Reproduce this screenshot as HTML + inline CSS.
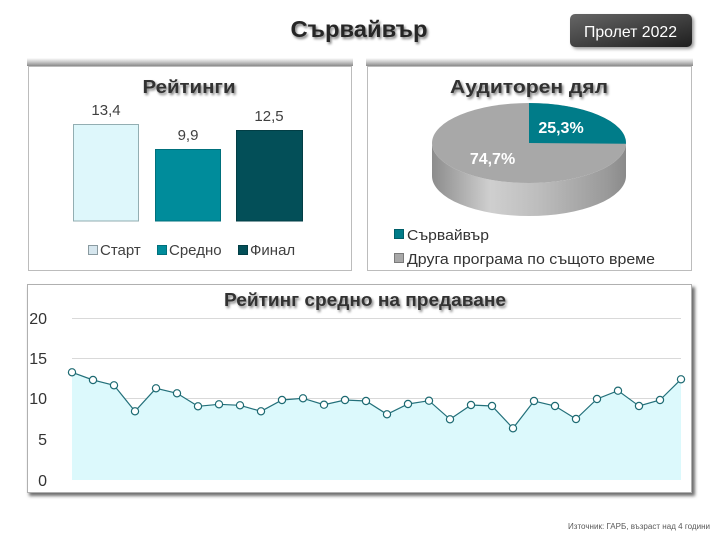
<!DOCTYPE html>
<html><head><meta charset="utf-8"><style>
html,body{margin:0;padding:0;background:#fff;}
svg{display:block;}
text{font-family:"Liberation Sans",Arial,sans-serif;}
</style></head><body>
<svg width="720" height="540" viewBox="0 0 720 540" xmlns="http://www.w3.org/2000/svg">
<defs>
  <linearGradient id="band" x1="0" y1="0" x2="0" y2="1">
    <stop offset="0" stop-color="#ffffff"/>
    <stop offset="0.5" stop-color="#c8c8c8"/>
    <stop offset="1" stop-color="#8a8a8a"/>
  </linearGradient>
  <linearGradient id="badge" x1="0" y1="0" x2="1" y2="1">
    <stop offset="0" stop-color="#666"/>
    <stop offset="1" stop-color="#1e1e1e"/>
  </linearGradient>
  <linearGradient id="side" x1="0" y1="0" x2="1" y2="0">
    <stop offset="0" stop-color="#8c8c8c"/>
    <stop offset="0.3" stop-color="#cfcfcf"/>
    <stop offset="0.55" stop-color="#bdbdbd"/>
    <stop offset="0.9" stop-color="#9a9a9a"/>
    <stop offset="1" stop-color="#8a8a8a"/>
  </linearGradient>
  <filter id="ts" x="-10%" y="-30%" width="130%" height="180%">
    <feGaussianBlur in="SourceAlpha" stdDeviation="1.2"/>
    <feOffset dx="1.5" dy="2" result="b"/>
    <feComponentTransfer><feFuncA type="linear" slope="0.5"/></feComponentTransfer>
    <feMerge><feMergeNode/><feMergeNode in="SourceGraphic"/></feMerge>
  </filter>
  <filter id="bs" x="-10%" y="-10%" width="130%" height="140%">
    <feGaussianBlur stdDeviation="1.5"/>
  </filter>
</defs>

<!-- Header -->
<text x="359" y="37" text-anchor="middle" font-size="23" font-weight="bold" fill="#262626" textLength="137" lengthAdjust="spacingAndGlyphs" filter="url(#ts)">Сървайвър</text>
<rect x="572" y="16" width="122" height="33" rx="5" fill="#999" filter="url(#bs)"/>
<rect x="570" y="14" width="122" height="33" rx="5" fill="url(#badge)"/>
<text x="630.5" y="37" text-anchor="middle" font-size="16" fill="#fff" textLength="93" lengthAdjust="spacingAndGlyphs">Пролет 2022</text>

<!-- Left panel -->
<rect x="27" y="58" width="326" height="8" fill="url(#band)"/>
<rect x="28.5" y="66.5" width="323" height="204" fill="#fff" stroke="#bcbcbc" stroke-width="1"/>
<text x="189" y="93" text-anchor="middle" font-size="18" font-weight="bold" fill="#333" textLength="93" lengthAdjust="spacingAndGlyphs" filter="url(#ts)">Рейтинги</text>
<rect x="73.5" y="124.5" width="65" height="96.5" fill="#def7fb" stroke="#93aeb2" stroke-width="1"/>
<rect x="155.5" y="149.5" width="65" height="71.5" fill="#008c9b" stroke="#00707c" stroke-width="1"/>
<rect x="236.5" y="130.5" width="66" height="90.5" fill="#034f58" stroke="#023e45" stroke-width="1"/>
<text x="106" y="115" text-anchor="middle" font-size="15" fill="#404040">13,4</text>
<text x="188" y="140" text-anchor="middle" font-size="15" fill="#404040">9,9</text>
<text x="269" y="121" text-anchor="middle" font-size="15" fill="#404040">12,5</text>
<rect x="88.5" y="245.5" width="9" height="9" fill="#d6e6ee" stroke="#8a9aa0"/>
<text x="100" y="255" font-size="15" fill="#404040">Старт</text>
<rect x="157.5" y="245.5" width="9" height="9" fill="#008c9b" stroke="#00707c"/>
<text x="169" y="255" font-size="15" fill="#404040">Средно</text>
<rect x="238.5" y="245.5" width="9" height="9" fill="#034f58" stroke="#023e45"/>
<text x="250" y="255" font-size="15" fill="#404040">Финал</text>

<!-- Right panel -->
<rect x="366" y="58" width="327" height="8" fill="url(#band)"/>
<rect x="367.5" y="66.5" width="324" height="204" fill="#fff" stroke="#bcbcbc" stroke-width="1"/>
<text x="529" y="93" text-anchor="middle" font-size="18" font-weight="bold" fill="#333" textLength="158" lengthAdjust="spacingAndGlyphs" filter="url(#ts)">Аудиторен  дял</text>
<!-- pie side -->
<path d="M432,143 L432,176 A97,40 0 0 0 626,176 L626,143 A97,40 0 0 1 432,143 Z" fill="url(#side)"/>
<!-- pie top -->
<ellipse cx="529" cy="143" rx="97" ry="40" fill="#a8a8a8"/>
<path d="M529,143 L529,103 A97,40 0 0 1 626,143.7 Z" fill="#007c89"/>
<text x="561" y="133" text-anchor="middle" font-size="16" font-weight="bold" fill="#fff">25,3%</text>
<text x="492.5" y="164" text-anchor="middle" font-size="16" font-weight="bold" fill="#fff">74,7%</text>
<rect x="394.5" y="229.5" width="9" height="9" fill="#007c89" stroke="#005f69"/>
<text x="407" y="240" font-size="15" fill="#333" textLength="82" lengthAdjust="spacingAndGlyphs">Сървайвър</text>
<rect x="394.5" y="253.5" width="9" height="9" fill="#a8a8a8" stroke="#7a7a7a"/>
<text x="407" y="264" font-size="15" fill="#333" textLength="248" lengthAdjust="spacingAndGlyphs">Друга програма по същото време</text>

<!-- Bottom panel -->
<rect x="29" y="287" width="666" height="209" fill="#6e6e6e" filter="url(#bs)"/>
<rect x="27.5" y="284.5" width="664" height="208" fill="#fff" stroke="#b0b0b0" stroke-width="1"/>
<text x="365" y="306" text-anchor="middle" font-size="18" font-weight="bold" fill="#333" textLength="282" lengthAdjust="spacingAndGlyphs" filter="url(#ts)">Рейтинг средно на предаване</text>
<g stroke="#d9d9d9" stroke-width="1">
  <line x1="72" y1="318.5" x2="681" y2="318.5"/>
  <line x1="72" y1="358.5" x2="681" y2="358.5"/>
  <line x1="72" y1="398.5" x2="681" y2="398.5"/>
  <line x1="72" y1="439.5" x2="681" y2="439.5"/>
</g>
<g font-size="16" fill="#333" text-anchor="end">
  <text x="47" y="324">20</text>
  <text x="47" y="364">15</text>
  <text x="47" y="404">10</text>
  <text x="47" y="445">5</text>
  <text x="47" y="486">0</text>
</g>
<path d="M72,480 L72,372.3 L93,380 L114,385.3 L135,411.3 L156,388.3 L177,393.3 L198,406.3 L219,404.3 L240,405.3 L261,411.3 L282,400 L303,398.3 L324,404.7 L345,400 L366,401 L387,414.3 L408,404 L429,400.7 L450,419.3 L471,405 L492,406 L513,428.3 L534,401 L555,406 L576,419 L597,399 L618,390.7 L639,406 L660,400 L681,379.3 L681,480 Z" fill="#dcf9fc"/>
<polyline points="72,372.3 93,380 114,385.3 135,411.3 156,388.3 177,393.3 198,406.3 219,404.3 240,405.3 261,411.3 282,400 303,398.3 324,404.7 345,400 366,401 387,414.3 408,404 429,400.7 450,419.3 471,405 492,406 513,428.3 534,401 555,406 576,419 597,399 618,390.7 639,406 660,400 681,379.3" fill="none" stroke="#23707a" stroke-width="1.2"/>
<g fill="#fff" stroke="#1d6a72" stroke-width="1.2">
  <circle cx="72" cy="372.3" r="3.6"/><circle cx="93" cy="380" r="3.6"/><circle cx="114" cy="385.3" r="3.6"/>
  <circle cx="135" cy="411.3" r="3.6"/><circle cx="156" cy="388.3" r="3.6"/><circle cx="177" cy="393.3" r="3.6"/>
  <circle cx="198" cy="406.3" r="3.6"/><circle cx="219" cy="404.3" r="3.6"/><circle cx="240" cy="405.3" r="3.6"/>
  <circle cx="261" cy="411.3" r="3.6"/><circle cx="282" cy="400" r="3.6"/><circle cx="303" cy="398.3" r="3.6"/>
  <circle cx="324" cy="404.7" r="3.6"/><circle cx="345" cy="400" r="3.6"/><circle cx="366" cy="401" r="3.6"/>
  <circle cx="387" cy="414.3" r="3.6"/><circle cx="408" cy="404" r="3.6"/><circle cx="429" cy="400.7" r="3.6"/>
  <circle cx="450" cy="419.3" r="3.6"/><circle cx="471" cy="405" r="3.6"/><circle cx="492" cy="406" r="3.6"/>
  <circle cx="513" cy="428.3" r="3.6"/><circle cx="534" cy="401" r="3.6"/><circle cx="555" cy="406" r="3.6"/>
  <circle cx="576" cy="419" r="3.6"/><circle cx="597" cy="399" r="3.6"/><circle cx="618" cy="390.7" r="3.6"/>
  <circle cx="639" cy="406" r="3.6"/><circle cx="660" cy="400" r="3.6"/><circle cx="681" cy="379.3" r="3.6"/>
</g>

<!-- Source -->
<text x="710" y="529" text-anchor="end" font-size="8" fill="#595959" textLength="142" lengthAdjust="spacingAndGlyphs">Източник: ГАРБ, възраст над 4 години</text>
</svg>
</body></html>
